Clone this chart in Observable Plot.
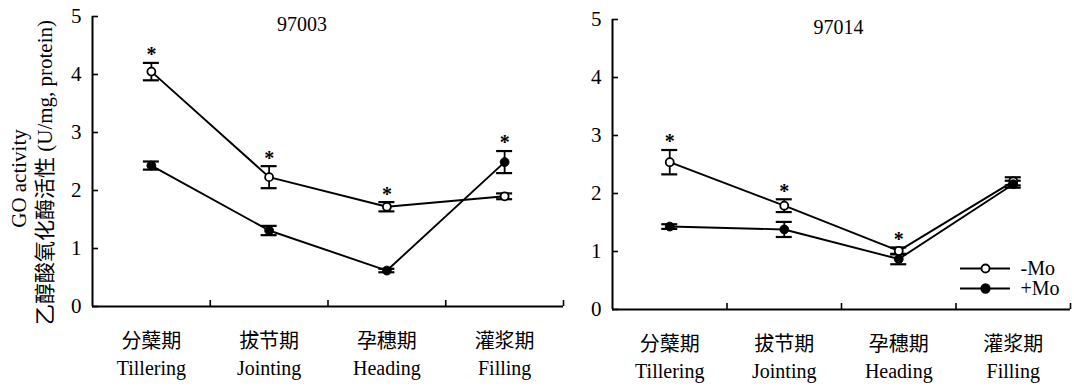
<!DOCTYPE html>
<html>
<head>
<meta charset="utf-8">
<script src="https://cdn.jsdelivr.net/npm/d3@7"></script>
<script src="https://cdn.jsdelivr.net/npm/@observablehq/plot@0.6"></script>
<style>
  html, body { margin: 0; padding: 0; background: white; }
  #chart { position: relative; width: 1074px; height: 388px; background: white; overflow: hidden; }
  #chart > div, #chart > svg { position: absolute; top: 0; }
</style>
</head>
<body>
<div id="chart"></div>
<script>
// ---------- data ----------
const categoriesZh = ["分蘖期", "拔节期", "孕穗期", "灌浆期"];
const categoriesEn = ["Tillering", "Jointing", "Heading", "Filling"];
const seriesNames = ["-Mo", "+Mo"];
const yTicks = [0, 1, 2, 3, 4, 5];

// cultivar 97003
const title97003 = "97003";
const minusMo97003 = [4.05, 2.23, 1.72, 1.90];
const minusMoErr97003 = [0.15, 0.19, 0.08, 0.05];
const plusMo97003 = [2.43, 1.31, 0.62, 2.49];
const plusMoErr97003 = [0.07, 0.08, 0.03, 0.19];
const stars97003 = [true, true, true, true];

// cultivar 97014
const title97014 = "97014";
const minusMo97014 = [2.54, 1.79, 1.01, 2.21];
const minusMoErr97014 = [0.21, 0.11, 0.06, 0.07];
const plusMo97014 = [1.43, 1.38, 0.87, 2.16];
const plusMoErr97014 = [0.04, 0.13, 0.09, 0.06];
const stars97014 = [true, true, true, false];

const yLabelEn = "GO activity";
const yLabelZh = "乙醇酸氧化酶活性 (U/mg, protein)";

// ---------- drawing ----------
const FONT = "'Liberation Serif', 'Times New Roman', 'Noto Sans CJK SC', serif";
const nCat = categoriesZh.length;
const catIdx = categoriesZh.map((_, i) => i);
const boundaries = catIdx.map(i => i + 0.5);

function buildRows(minus, minusErr, plus, plusErr) {
  const rows = [];
  [[seriesNames[0], minus, minusErr], [seriesNames[1], plus, plusErr]].forEach(([s, v, e]) => {
    v.forEach((val, i) => rows.push({series: s, i, value: val, lo: val - e[i], hi: val + e[i]}));
  });
  return rows;
}

function panel(opts) {
  const rows = buildRows(opts.minus, opts.minusErr, opts.plus, opts.plusErr);
  const starRows = catIdx.filter(i => opts.stars[i]).map(i => ({
    i, top: Math.max(opts.minus[i] + opts.minusErr[i], opts.plus[i] + opts.plusErr[i])
  }));
  const marks = [
    Plot.ruleY([0], {stroke: "black", strokeWidth: 2}),
    Plot.ruleX([-0.5], {stroke: "black", strokeWidth: 2}),
    Plot.axisY({ticks: yTicks, tickSize: 0, tickPadding: 11, fontSize: 21, fill: "black", label: null, tickFormat: d3.format("d")}),
    Plot.axisY({ticks: yTicks, tickSize: 6, text: null, dx: 6, stroke: "black", strokeWidth: 1.6, label: null}),
    Plot.axisX({ticks: boundaries, tickSize: 6, text: null, dy: -6, stroke: "black", strokeWidth: 1.6, label: null}),
    Plot.axisX({ticks: catIdx, tickSize: 0, tickPadding: 23, fontSize: 20, lineHeight: 1.32, fill: "black", label: null,
      tickFormat: i => categoriesZh[i] + "\n" + categoriesEn[i]}),
    Plot.line(rows, {x: "i", y: "value", z: "series", stroke: "black", strokeWidth: 1.9}),
    Plot.ruleX(rows, {x: "i", y1: "lo", y2: "hi", stroke: "black", strokeWidth: 1.8}),
    Plot.ruleY(rows, {x1: "i", x2: "i", y: "lo", insetLeft: -8, insetRight: -8, stroke: "black", strokeWidth: 2.2}),
    Plot.ruleY(rows, {x1: "i", x2: "i", y: "hi", insetLeft: -8, insetRight: -8, stroke: "black", strokeWidth: 2.2}),
    Plot.dot(rows.filter(d => d.series === seriesNames[0]), {x: "i", y: "value", r: 4, fill: "white", stroke: "black", strokeWidth: 1.8}),
    Plot.dot(rows.filter(d => d.series === seriesNames[1]), {x: "i", y: "value", r: 4.4, fill: "black", stroke: "black", strokeWidth: 1}),
    Plot.text(starRows, {x: "i", y: "top", text: () => "*", dy: -8, lineAnchor: "middle", fontSize: 20, fontWeight: "bold", fill: "black"}),
    Plot.text([opts.title], {text: d => d, frameAnchor: "top", dx: opts.titleDx, dy: 8, lineAnchor: "middle", fontSize: 20, fill: "black"})
  ];
  if (opts.yLabel) {
    marks.push(
      Plot.text([yLabelEn], {text: d => d, frameAnchor: "left", textAnchor: "middle", rotate: -90, dx: -73, dy: 17, lineAnchor: "middle", fontSize: 21, fill: "black"}),
      Plot.text([yLabelZh], {text: d => d, frameAnchor: "left", textAnchor: "middle", rotate: -90, dx: -47, dy: 11, lineAnchor: "middle", fontSize: 21, fill: "black"})
    );
  }
  return Plot.plot({
    width: opts.width,
    height: 388,
    marginLeft: opts.marginLeft,
    marginRight: opts.marginRight,
    marginTop: opts.marginTop,
    marginBottom: opts.marginBottom,
    x: {type: "linear", domain: [-0.5, nCat - 0.5], label: null},
    y: {type: "linear", domain: [0, 5], label: null},
    style: {fontFamily: FONT, background: "transparent", color: "black", overflow: "visible"},
    marks
  });
}

const left = panel({
  title: title97003, minus: minusMo97003, minusErr: minusMoErr97003,
  plus: plusMo97003, plusErr: plusMoErr97003, stars: stars97003,
  width: 580, marginLeft: 92, marginRight: 17, marginTop: 16, marginBottom: 82,
  titleDx: -26, yLabel: true
});
left.style.left = "0px";

const right = panel({
  title: title97014, minus: minusMo97014, minusErr: minusMoErr97014,
  plus: plusMo97014, plusErr: plusMoErr97014, stars: stars97014,
  width: 494, marginLeft: 32, marginRight: 4, marginTop: 19, marginBottom: 79,
  titleDx: -3, yLabel: false
});
right.style.left = "580px";

const legend = Plot.plot({
  width: 114, height: 40,
  marginLeft: 0, marginRight: 64, marginTop: 10, marginBottom: 10,
  x: {type: "linear", domain: [0, 1], axis: null},
  y: {type: "point", domain: seriesNames, padding: 0, axis: null},
  style: {fontFamily: FONT, background: "transparent", color: "black", overflow: "visible"},
  marks: [
    Plot.ruleY(seriesNames, {y: d => d, x1: 0, x2: 1, stroke: "black", strokeWidth: 1.9}),
    Plot.dot([seriesNames[0]], {x: 0.5, y: d => d, r: 4, fill: "white", stroke: "black", strokeWidth: 1.8}),
    Plot.dot([seriesNames[1]], {x: 0.5, y: d => d, r: 4.4, fill: "black", stroke: "black"}),
    Plot.text(seriesNames, {x: 1, y: d => d, text: d => d, dx: 10, textAnchor: "start", lineAnchor: "middle", fontSize: 20, fill: "black"})
  ]
});
legend.style.left = "960px";
legend.style.top = "258px";

const chart = document.getElementById("chart");
chart.appendChild(left);
chart.appendChild(right);
chart.appendChild(legend);
</script>
</body>
</html>
